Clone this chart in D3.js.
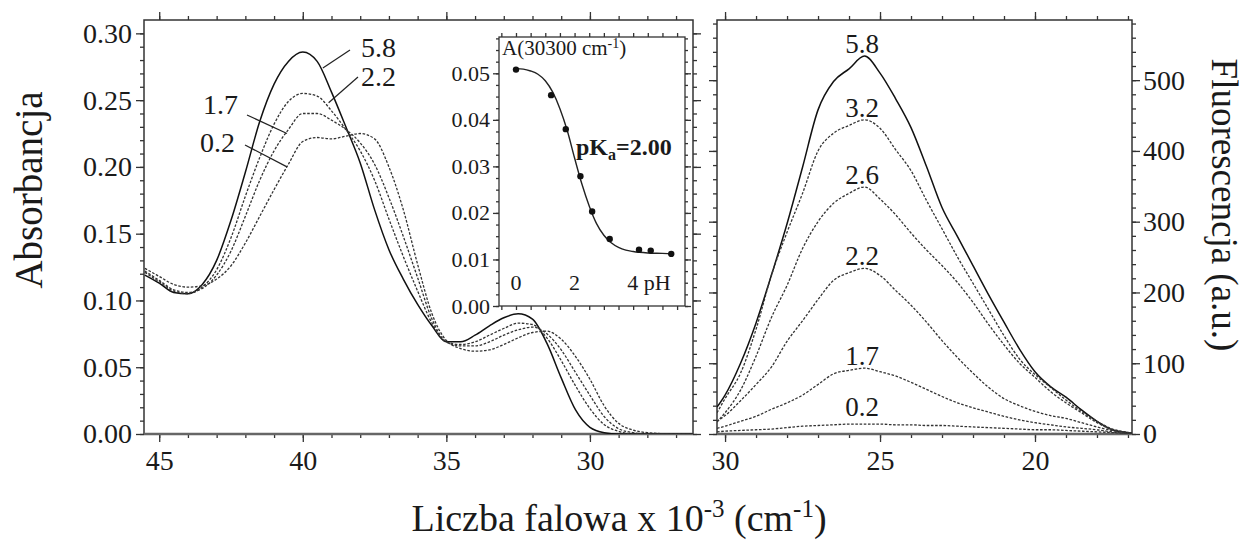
<!DOCTYPE html>
<html>
<head>
<meta charset="utf-8">
<script src="https://cdn.jsdelivr.net/npm/d3@7"></script>
<style>
  body { margin: 0; background: #fff; }
  svg text { font-family: "Liberation Serif", "Times New Roman", serif; fill: #1a1a1a; }
</style>
</head>
<body>
<svg id="chart" width="1247" height="547"></svg>
<script>
// ---------- Absorption spectra (wavenumber x 10^-3 cm^-1 vs absorbance) ----------
const absWavenumber = [45.5, 45, 44.5, 44, 43.5, 43, 42.5, 42, 41.5, 41, 40.5, 40, 39.5, 39, 38.5, 38,
  37.5, 37, 36.5, 36, 35.5, 35, 34.5, 34, 33.5, 33, 32.5, 32, 31.5, 31, 30.5, 30, 29.5, 29, 28.5, 28, 27, 26.4];
const absPH58 = [0.119, 0.113, 0.106, 0.105, 0.112, 0.130, 0.160, 0.196, 0.234, 0.262, 0.279, 0.286, 0.279, 0.256, 0.230, 0.203,
  0.168, 0.138, 0.116, 0.097, 0.081, 0.069, 0.069, 0.074, 0.081, 0.087, 0.090, 0.086, 0.068, 0.042, 0.018, 0.005, 0.001, 0.000, 0.000, 0.000, 0.000, 0.000];
const absPH22 = [0.121, 0.114, 0.107, 0.105, 0.110, 0.123, 0.147, 0.178, 0.207, 0.232, 0.249, 0.255, 0.253, 0.242, 0.228, 0.212,
  0.190, 0.161, 0.133, 0.107, 0.083, 0.069, 0.067, 0.069, 0.074, 0.079, 0.083, 0.082, 0.072, 0.055, 0.036, 0.019, 0.007, 0.002, 0.000, 0.000, 0.000, 0.000];
const absPH17 = [0.122, 0.115, 0.108, 0.106, 0.109, 0.119, 0.137, 0.163, 0.190, 0.212, 0.228, 0.240, 0.240, 0.235, 0.228, 0.218,
  0.202, 0.177, 0.148, 0.117, 0.086, 0.069, 0.066, 0.066, 0.069, 0.074, 0.078, 0.080, 0.075, 0.063, 0.046, 0.029, 0.013, 0.004, 0.001, 0.000, 0.000, 0.000];
const absPH02 = [0.124, 0.118, 0.112, 0.110, 0.111, 0.116, 0.126, 0.143, 0.163, 0.183, 0.202, 0.219, 0.222, 0.221, 0.223, 0.225,
  0.221, 0.200, 0.168, 0.127, 0.090, 0.070, 0.064, 0.062, 0.063, 0.067, 0.072, 0.076, 0.077, 0.071, 0.058, 0.041, 0.021, 0.008, 0.003, 0.001, 0.000, 0.000];
const absLabels = ["5.8", "2.2", "1.7", "0.2"];

// ---------- Fluorescence spectra ----------
const fluWavenumber = [30.26, 30, 29.5, 29, 28.5, 28, 27.5, 27, 26.5, 26, 25.5, 25, 24.5, 24, 23.5, 23,
  22.5, 22, 21.5, 21, 20.5, 20, 19.5, 19, 18.5, 18, 17.5, 17, 16.87];
const fluPH58 = [38, 55, 100, 157, 225, 297, 377, 458, 498, 516, 534, 510, 474, 433, 378, 320,
  279, 238, 197, 158, 120, 88, 67, 52, 34, 18, 6, 2, 1];
const fluPH32 = [30, 50, 86, 148, 225, 285, 340, 400, 425, 436, 444, 432, 402, 372, 330, 290,
  250, 213, 176, 139, 106, 84, 66, 48, 32, 18, 7, 2, 1];
const fluPH26 = [17, 30, 62, 110, 165, 210, 262, 300, 326, 340, 349, 332, 310, 284, 260, 238,
  214, 186, 155, 126, 100, 80, 60, 44, 30, 16, 6, 2, 1];
const fluPH22 = [18, 26, 47, 70, 95, 131, 160, 190, 217, 228, 234, 224, 203, 182, 158, 132,
  108, 86, 66, 50, 40, 32, 26, 22, 16, 10, 5, 2, 1];
const fluPH17 = [8, 11, 18, 25, 35, 44, 55, 70, 85, 90, 93, 88, 82, 73, 63, 53,
  44, 37, 31, 25, 20, 16, 13, 10, 8, 6, 3, 1, 1];
const fluPH02 = [3, 4, 5, 6, 7, 9, 11, 12, 13, 14, 14, 14, 13, 13, 12, 12,
  11, 10, 9, 8, 7, 6, 6, 5, 4, 3, 2, 1, 1];
const fluLabels = ["5.8", "3.2", "2.6", "2.2", "1.7", "0.2"];

// ---------- Inset: absorbance at 30300 cm^-1 vs pH ----------
const insetPH = [0.0, 1.2, 1.7, 2.2, 2.6, 3.2, 4.2, 4.6, 5.3];
const insetA = [0.0508, 0.0453, 0.0380, 0.0279, 0.0203, 0.0144, 0.0121, 0.0119, 0.0112];
const fitPH = [0, 0.25, 0.5, 0.75, 1.0, 1.25, 1.5, 1.75, 2.0, 2.25, 2.5, 2.75, 3.0, 3.25, 3.5, 3.75, 4.0, 4.5, 5.0, 5.35];
const fitA = [0.0510, 0.0509, 0.0505, 0.0498, 0.0484, 0.0460, 0.0424, 0.0377, 0.0318, 0.0262, 0.0215, 0.0177,
  0.0152, 0.0136, 0.0126, 0.0120, 0.0117, 0.0114, 0.0113, 0.0112];
const pKaText = "2.00";

// ---------- Tick values ----------
const absTicks = [0.00, 0.05, 0.10, 0.15, 0.20, 0.25, 0.30];
const wnTicksLeft = [45, 40, 35, 30];
const wnTicksRight = [30, 25, 20];
const fluTicks = [0, 100, 200, 300, 400, 500];
const insetYTicks = [0.00, 0.01, 0.02, 0.03, 0.04, 0.05];
const insetXTicks = [0, 2, 4];

// ---------- Layout ----------
const svg = d3.select("#chart");
const FONT = '"Liberation Serif", "Times New Roman", serif';
const INK = "#222";

const L = { x0: 144, x1: 693, y0: 20, y1: 434 };
const R = { x0: 717, x1: 1132, y0: 20, y1: 434 };
const I = { x0: 499, x1: 685, y0: 37, y1: 306 };

const xL = d3.scaleLinear().domain([45.53, 26.41]).range([L.x0, L.x1]);
const yL = d3.scaleLinear().domain([0, 0.31]).range([L.y1, L.y0]);
const xR = d3.scaleLinear().domain([30.26, 16.87]).range([R.x0, R.x1]);
const yR = d3.scaleLinear().domain([0, 585]).range([R.y1, R.y0]);
const xI = d3.scaleLinear().domain([-0.58, 5.77]).range([I.x0, I.x1]);
const yI = d3.scaleLinear().domain([0, 0.0578]).range([I.y1, I.y0]);

function styleAxis(g, size) {
  g.select(".domain").remove();
  g.attr("font-family", FONT).attr("font-size", size);
  g.selectAll(".tick line").attr("stroke", "#333").attr("stroke-width", 1.3);
  g.selectAll(".tick text").attr("fill", "#1a1a1a");
}
function addAxis(gen, tx, ty, size) {
  return svg.append("g").attr("transform", `translate(${tx},${ty})`).call(gen).call(g => styleAxis(g, size || 28));
}
const none = () => "";
const minorRange = (a, b, s) => d3.range(a, b + s / 2, s);

// ---------- Left panel axes ----------
addAxis(d3.axisLeft(yL).tickValues(minorRange(0, 0.30, 0.01)).tickSize(4).tickFormat(none), L.x0, 0);
addAxis(d3.axisLeft(yL).tickValues(absTicks).tickSize(8).tickPadding(4).tickFormat(d3.format(".2f")), L.x0, 0);
addAxis(d3.axisRight(yL).tickValues(minorRange(0, 0.30, 0.01)).tickSize(4).tickFormat(none), L.x1, 0);
addAxis(d3.axisRight(yL).tickValues(absTicks).tickSize(8).tickFormat(none), L.x1, 0);
addAxis(d3.axisBottom(xL).tickValues(d3.range(27, 46)).tickSize(4).tickFormat(none), 0, L.y1);
addAxis(d3.axisBottom(xL).tickValues(wnTicksLeft).tickSize(8).tickPadding(8).tickFormat(d3.format("d")), 0, L.y1);
addAxis(d3.axisTop(xL).tickValues(d3.range(27, 46)).tickSize(4).tickFormat(none), 0, L.y0);
addAxis(d3.axisTop(xL).tickValues(wnTicksLeft).tickSize(8).tickFormat(none), 0, L.y0);

// ---------- Right panel axes ----------
addAxis(d3.axisLeft(yR).tickValues(minorRange(0, 580, 20)).tickSize(4).tickFormat(none), R.x0, 0);
addAxis(d3.axisLeft(yR).tickValues(fluTicks).tickSize(8).tickFormat(none), R.x0, 0);
addAxis(d3.axisRight(yR).tickValues(minorRange(0, 580, 20)).tickSize(4).tickFormat(none), R.x1, 0);
addAxis(d3.axisRight(yR).tickValues(fluTicks).tickSize(8).tickPadding(3).tickFormat(d3.format("d")), R.x1, 0);
addAxis(d3.axisBottom(xR).tickValues(d3.range(17, 31)).tickSize(4).tickFormat(none), 0, R.y1);
addAxis(d3.axisBottom(xR).tickValues(wnTicksRight).tickSize(8).tickPadding(8).tickFormat(d3.format("d")), 0, R.y1);
addAxis(d3.axisTop(xR).tickValues(d3.range(17, 31)).tickSize(4).tickFormat(none), 0, R.y0);
addAxis(d3.axisTop(xR).tickValues(wnTicksRight).tickSize(8).tickFormat(none), 0, R.y0);

// ---------- Panel frames ----------
[L, R].forEach(p => {
  svg.append("rect").attr("x", p.x0).attr("y", p.y0).attr("width", p.x1 - p.x0).attr("height", p.y1 - p.y0)
    .attr("fill", "none").attr("stroke", "#333").attr("stroke-width", 1.5);
  svg.append("line").attr("x1", p.x0).attr("x2", p.x1).attr("y1", p.y1).attr("y2", p.y1)
    .attr("stroke", "#666").attr("stroke-width", 2.4);
});

// clip paths for the spectra
const defs = svg.append("defs");
defs.append("clipPath").attr("id", "clipL").append("rect")
  .attr("x", L.x0).attr("y", L.y0).attr("width", L.x1 - L.x0).attr("height", L.y1 - L.y0);
defs.append("clipPath").attr("id", "clipR").append("rect")
  .attr("x", R.x0).attr("y", R.y0).attr("width", R.x1 - R.x0).attr("height", R.y1 - R.y0);

const solidStyle = { stroke: "#111", width: 1.5, dash: null };
const dashStyle = { stroke: "#333", width: 1.3, dash: "2.6,1.6" };

// ---------- Absorption curves ----------
const absSeries = [absPH58, absPH22, absPH17, absPH02];
const lineL = d3.line().x(d => xL(d[0])).y(d => yL(d[1])).curve(d3.curveMonotoneX);
const gL = svg.append("g").attr("clip-path", "url(#clipL)");
absSeries.forEach((vals, i) => {
  const st = i === 0 ? solidStyle : dashStyle;
  gL.append("path").datum(absWavenumber.map((w, k) => [w, vals[k]]))
    .attr("d", lineL).attr("fill", "none").attr("stroke", st.stroke)
    .attr("stroke-width", st.width).attr("stroke-dasharray", st.dash);
});

// curve labels with leader lines: label position, leader start, leader end on the curve (wavenumber, absorbance)
const absLabelPlacement = [
  { tx: 361, ty: 57, sx: 350, sy: 50, wn: 39.3, a: 0.274 },
  { tx: 361, ty: 86, sx: 358, sy: 77, wn: 39.1, a: 0.248 },
  { tx: 203, ty: 114, sx: 247, sy: 115, wn: 40.55, a: 0.225 },
  { tx: 200, ty: 152, sx: 245, sy: 145, wn: 40.55, a: 0.200 }
];
absLabels.forEach((t, i) => {
  const p = absLabelPlacement[i];
  svg.append("line").attr("x1", p.sx).attr("y1", p.sy).attr("x2", xL(p.wn)).attr("y2", yL(p.a))
    .attr("stroke", INK).attr("stroke-width", 1.2);
  svg.append("text").attr("x", p.tx).attr("y", p.ty).attr("font-size", 28).text(t);
});

// ---------- Fluorescence curves ----------
const fluSeries = [fluPH58, fluPH32, fluPH26, fluPH22, fluPH17, fluPH02];
const lineR = d3.line().x(d => xR(d[0])).y(d => yR(d[1])).curve(d3.curveMonotoneX);
const gR = svg.append("g").attr("clip-path", "url(#clipR)");
fluSeries.forEach((vals, i) => {
  const st = i === 0 ? solidStyle : dashStyle;
  gR.append("path").datum(fluWavenumber.map((w, k) => [w, vals[k]]))
    .attr("d", lineR).attr("fill", "none").attr("stroke", st.stroke)
    .attr("stroke-width", st.width).attr("stroke-dasharray", st.dash);
});
// labels sit just above each curve's maximum
fluSeries.forEach((vals, i) => {
  const peak = d3.max(vals);
  svg.append("text").attr("x", 862).attr("y", yR(peak) - (i === 5 ? 8 : 3))
    .attr("text-anchor", "middle").attr("font-size", 27).text(fluLabels[i]);
});

// ---------- Inset ----------
svg.append("rect").attr("x", I.x0).attr("y", I.y0).attr("width", I.x1 - I.x0).attr("height", I.y1 - I.y0)
  .attr("fill", "#fff").attr("stroke", "#333").attr("stroke-width", 1.3);
addAxis(d3.axisLeft(yI).tickValues(minorRange(0, 0.0575, 0.0025)).tickSize(3).tickFormat(none), I.x0, 0, 22);
addAxis(d3.axisLeft(yI).tickValues(insetYTicks).tickSize(6).tickPadding(3).tickFormat(d3.format(".2f")), I.x0, 0, 22);
addAxis(d3.axisRight(yI).tickValues(minorRange(0, 0.0575, 0.0025)).tickSize(3).tickFormat(none), I.x1, 0, 22);
addAxis(d3.axisRight(yI).tickValues(insetYTicks).tickSize(6).tickFormat(none), I.x1, 0, 22);
addAxis(d3.axisBottom(xI).tickValues(minorRange(-0.5, 5.5, 0.5)).tickSize(4).tickFormat(none), 0, I.y1, 22);
addAxis(d3.axisTop(xI).tickValues(minorRange(-0.5, 5.5, 0.5)).tickSize(4).tickFormat(none), 0, I.y0, 22);

insetXTicks.forEach((v, i) => {
  const last = i === insetXTicks.length - 1;
  svg.append("text").attr("x", last ? xI(v) - 6 : xI(v)).attr("y", 290)
    .attr("text-anchor", last ? "start" : "middle").attr("font-size", 22)
    .text(last ? v + " pH" : String(v));
});

const insetTitle = svg.append("text").attr("x", 502).attr("y", 55).attr("font-size", 21);
insetTitle.append("tspan").text("A(30300 cm");
insetTitle.append("tspan").attr("dy", -7).attr("font-size", 14).text("-1");
insetTitle.append("tspan").attr("dy", 7).text(")");

svg.append("path").datum(fitPH.map((p, k) => [p, fitA[k]]))
  .attr("d", d3.line().x(d => xI(d[0])).y(d => yI(d[1])).curve(d3.curveMonotoneX))
  .attr("fill", "none").attr("stroke", INK).attr("stroke-width", 1.4);
svg.append("g").selectAll("circle").data(insetPH.map((p, k) => [p, insetA[k]])).join("circle")
  .attr("cx", d => xI(d[0])).attr("cy", d => yI(d[1])).attr("r", 3.2).attr("fill", "#111");

const pka = svg.append("text").attr("x", 576).attr("y", 155).attr("font-size", 24).attr("font-weight", "bold");
pka.append("tspan").text("pK");
pka.append("tspan").attr("dy", 5).attr("font-size", 16).text("a");
pka.append("tspan").attr("dy", -5).text("=" + pKaText);

// ---------- Axis titles ----------
svg.append("text").attr("transform", "translate(42,190) rotate(-90)").attr("text-anchor", "middle")
  .attr("font-size", 39).text("Absorbancja");
svg.append("text").attr("transform", "translate(1212,205) rotate(90)").attr("text-anchor", "middle")
  .attr("font-size", 37).text("Fluorescencja (a.u.)");

const xTitle = svg.append("text").attr("x", 619).attr("y", 531).attr("text-anchor", "middle").attr("font-size", 38);
xTitle.append("tspan").text("Liczba falowa x 10");
xTitle.append("tspan").attr("dy", -14).attr("font-size", 25).text("-3");
xTitle.append("tspan").attr("dy", 14).text(" (cm");
xTitle.append("tspan").attr("dy", -14).attr("font-size", 25).text("-1");
xTitle.append("tspan").attr("dy", 14).text(")");
</script>
</body>
</html>
